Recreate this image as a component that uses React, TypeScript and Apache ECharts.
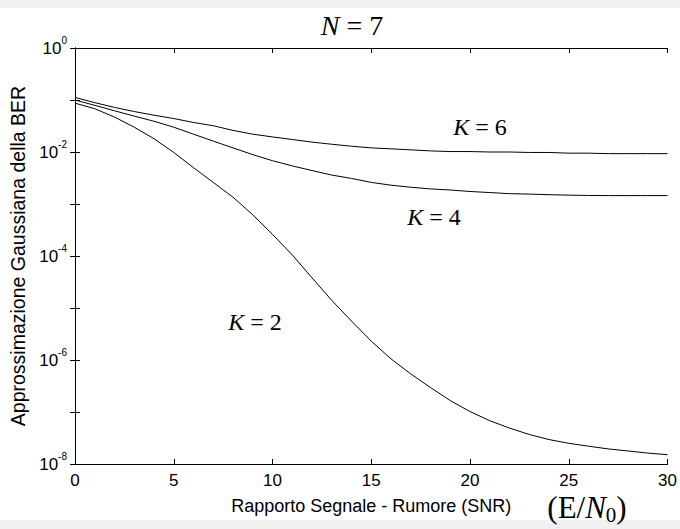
import React, { useEffect, useRef } from "react";
import * as echarts from "echarts";

// SNR (E/N0) values on the x axis
const snr = [0, 1, 2, 3, 4, 5, 6, 7, 8, 9, 10, 11, 12, 13, 14, 15, 16, 17, 18, 19, 20, 21, 22, 23, 24, 25, 26, 27, 28, 29, 30];

// Gaussian approximation of the BER, N = 7
const berK6 = [0.112, 0.089, 0.072, 0.060, 0.051, 0.044, 0.037, 0.032, 0.026, 0.022, 0.0195, 0.0174, 0.0155, 0.0141, 0.0129, 0.0120, 0.0115, 0.0110, 0.0105, 0.0102, 0.0102, 0.0100, 0.0100, 0.0098, 0.0098, 0.0095, 0.0095, 0.0093, 0.0093, 0.0093, 0.0093];
const berK4 = [0.100, 0.079, 0.062, 0.049, 0.039, 0.030, 0.022, 0.0162, 0.0120, 0.0089, 0.0068, 0.0054, 0.0044, 0.0036, 0.0031, 0.0026, 0.0023, 0.0021, 0.00195, 0.00186, 0.00174, 0.00166, 0.00158, 0.00155, 0.00151, 0.00148, 0.00146, 0.00145, 0.00145, 0.00145, 0.00145];
const berK2 = [0.087, 0.068, 0.047, 0.030, 0.018, 0.0098, 0.0050, 0.0026, 0.00135, 6.2e-4, 2.6e-4, 1.05e-4, 3.8e-5, 1.4e-5, 5.6e-6, 2.3e-6, 1.05e-6, 5.4e-7, 2.95e-7, 1.66e-7, 1.02e-7, 6.8e-8, 4.9e-8, 3.7e-8, 2.95e-8, 2.5e-8, 2.2e-8, 1.95e-8, 1.78e-8, 1.62e-8, 1.51e-8];

const xTicks = [0, 5, 10, 15, 20, 25, 30];
const curveLabels = ["K = 6", "K = 4", "K = 2"];

const SANS = "'Liberation Sans', Arial, sans-serif";
const SERIF = "'Liberation Serif', 'Times New Roman', serif";

export default function App() {
  const ref = useRef<HTMLDivElement>(null);

  useEffect(() => {
    if (!ref.current) return;
    const chart = echarts.init(ref.current, null, { renderer: "svg" });

    const pairs = (ys: number[]) => snr.map((x, i) => [x, ys[i]]);

    const axisLine = { show: true, lineStyle: { color: "#000", width: 1 } };
    const axisTick = { show: true, inside: true, length: 5, lineStyle: { color: "#000", width: 1 } };

    const yLabelFormatter = (v: number) => {
      const e = Math.round(Math.log10(v));
      if (e % 2 !== 0) return "";
      return `{b|10}{s|${e}}`;
    };

    const kRich = {
      i: { fontFamily: SERIF, fontStyle: "italic", fontSize: 24, fill: "#000" },
    };

    const option: any = {
      animation: false,
      backgroundColor: "#fff",
      grid: { left: 75, right: 10, top: 48, bottom: 65, containLabel: false },
      xAxis: [
        {
          type: "value",
          min: xTicks[0],
          max: xTicks[xTicks.length - 1],
          interval: 5,
          position: "bottom",
          axisLine,
          axisTick,
          splitLine: { show: false },
          axisLabel: { fontSize: 17, color: "#000", fontFamily: SANS, margin: 8 },
          name: "Rapporto Segnale - Rumore (SNR)",
          nameLocation: "middle",
          nameGap: 33,
          nameTextStyle: { fontSize: 18, color: "#000", fontFamily: SANS },
        },
        {
          type: "value",
          min: 0,
          max: 30,
          interval: 5,
          position: "top",
          axisLine,
          axisTick,
          splitLine: { show: false },
          axisLabel: { show: false },
        },
      ],
      yAxis: [
        {
          type: "log",
          logBase: 10,
          min: 1e-8,
          max: 1,
          splitNumber: 8,
          position: "left",
          axisLine,
          axisTick,
          splitLine: { show: false },
          axisLabel: {
            formatter: yLabelFormatter,
            margin: 8,
            color: "#000",
            rich: {
              b: { fontSize: 17, fontFamily: SANS, color: "#000", lineHeight: 26, verticalAlign: "middle" },
              s: { fontSize: 10, fontFamily: SANS, color: "#000", lineHeight: 10, verticalAlign: "top" },
            },
          },
          name: "Approssimazione Gaussiana della BER",
          nameLocation: "middle",
          nameGap: 47,
          nameTextStyle: { fontSize: 19.5, color: "#000", fontFamily: SANS },
        },
        {
          type: "log",
          logBase: 10,
          min: 1e-8,
          max: 1,
          splitNumber: 8,
          position: "right",
          axisLine,
          axisTick,
          splitLine: { show: false },
          axisLabel: { show: false },
        },
      ],
      series: [
        { name: curveLabels[0], type: "line", data: pairs(berK6), showSymbol: false, lineStyle: { color: "#000", width: 1 }, xAxisIndex: 0, yAxisIndex: 0 },
        { name: curveLabels[1], type: "line", data: pairs(berK4), showSymbol: false, lineStyle: { color: "#000", width: 1 }, xAxisIndex: 0, yAxisIndex: 0 },
        { name: curveLabels[2], type: "line", data: pairs(berK2), showSymbol: false, lineStyle: { color: "#000", width: 1 }, xAxisIndex: 0, yAxisIndex: 0 },
      ],
      graphic: [
        { type: "rect", shape: { x: 0, y: 0, width: 680, height: 8 }, style: { fill: "#f0f0f0" }, silent: true, z: -10 },
        { type: "rect", shape: { x: 0, y: 520, width: 680, height: 9 }, style: { fill: "#f0f0f0" }, silent: true, z: -10 },
        {
          type: "text",
          x: 352,
          y: 25,
          style: {
            text: "{i|N} = 7",
            fontFamily: SERIF,
            fontSize: 28,
            fill: "#000",
            align: "center",
            verticalAlign: "middle",
            rich: { i: { fontFamily: SERIF, fontStyle: "italic", fontSize: 28, fill: "#000" } },
          },
        },
        {
          type: "text",
          x: 480,
          y: 127,
          style: { text: "{i|K} = 6", fontFamily: SERIF, fontSize: 24, fill: "#000", align: "center", verticalAlign: "middle", rich: kRich },
        },
        {
          type: "text",
          x: 434,
          y: 217,
          style: { text: "{i|K} = 4", fontFamily: SERIF, fontSize: 24, fill: "#000", align: "center", verticalAlign: "middle", rich: kRich },
        },
        {
          type: "text",
          x: 255,
          y: 322,
          style: { text: "{i|K} = 2", fontFamily: SERIF, fontSize: 24, fill: "#000", align: "center", verticalAlign: "middle", rich: kRich },
        },
        {
          type: "text",
          x: 587,
          y: 507,
          style: {
            text: "(E/{i|N}{sub|0})",
            fontFamily: SERIF,
            fontSize: 31,
            fill: "#000",
            align: "center",
            verticalAlign: "middle",
            rich: {
              i: { fontFamily: SERIF, fontStyle: "italic", fontSize: 31, fill: "#000", lineHeight: 36, verticalAlign: "middle" },
              sub: { fontFamily: SERIF, fontSize: 21, fill: "#000", lineHeight: 21, verticalAlign: "bottom" },
            },
          },
        },
      ],
    };

    chart.setOption(option);
    return () => chart.dispose();
  }, []);

  return (
    <div
      ref={ref}
      style={{ position: "fixed", left: 0, top: 0, width: 680, height: 529, background: "#fff" }}
    />
  );
}
